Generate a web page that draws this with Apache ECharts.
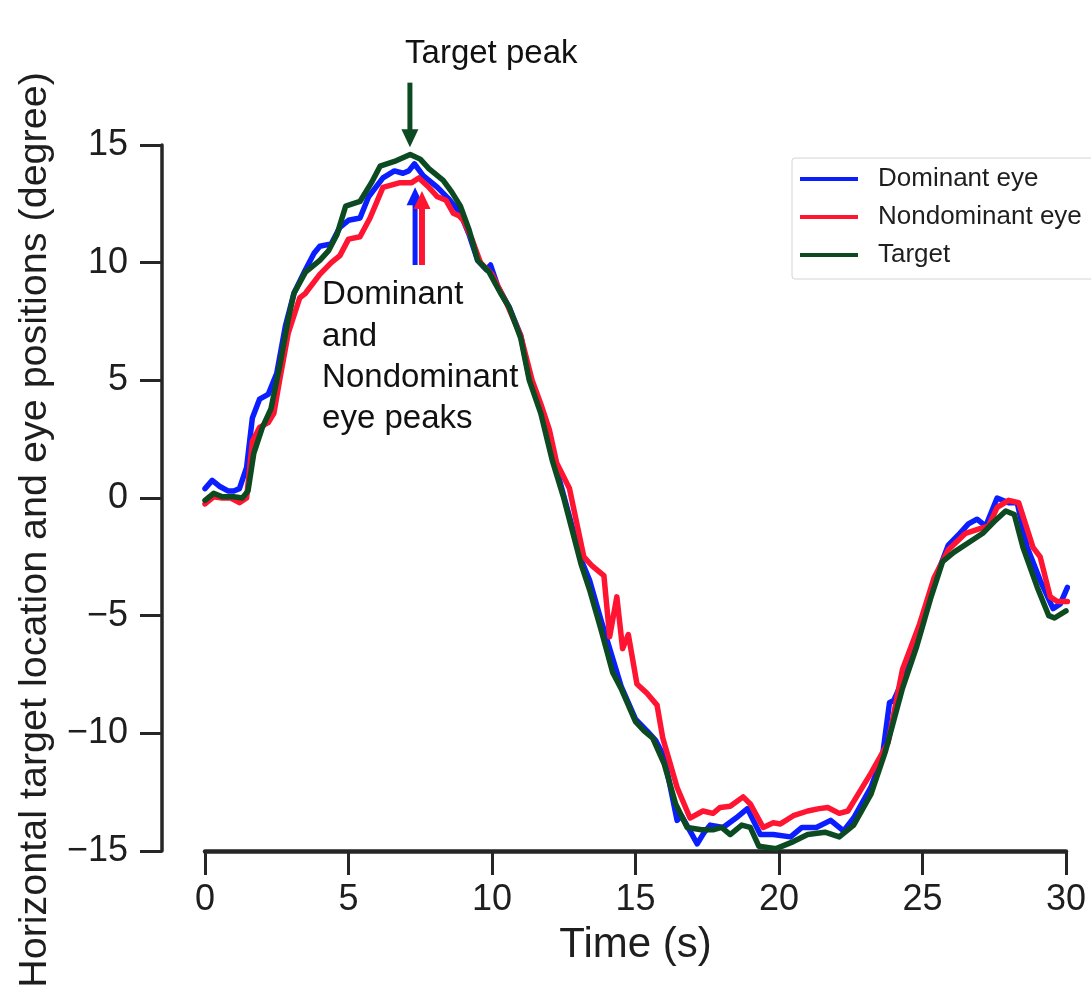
<!DOCTYPE html>
<html>
<head>
<meta charset="utf-8">
<title>Target and eye positions</title>
<script src="https://cdn.jsdelivr.net/npm/echarts@6/dist/echarts.min.js"></script>
<style>
  html, body { margin: 0; padding: 0; background: #fff; }
  #chart { width: 1091px; height: 989px; }
</style>
</head>
<body>
<div id="chart"></div>
<script>
// values (time in s, position in degree)
const seriesNames = ["Dominant eye", "Nondominant eye", "Target"];
const xTicks = [0, 5, 10, 15, 20, 25, 30];
const yTicks = [-15, -10, -5, 0, 5, 10, 15];

const domT = [0.0, 0.25, 0.5, 0.8, 1.0, 1.2, 1.45, 1.65, 1.9, 2.2, 2.5, 2.8, 3.1, 3.5, 3.8, 4.0, 4.4, 4.7, 5.0, 5.4, 5.7, 6.2, 6.6, 6.9, 7.1, 7.3, 7.6, 8.1, 8.5, 8.9, 9.2, 9.5, 9.8, 9.95, 10.2, 10.6, 11.0, 11.3, 11.7, 12.1, 12.5, 13.1, 13.4, 13.8, 14.1, 14.5, 15.0, 15.4, 15.7, 16.0, 16.45, 16.6, 17.15, 17.4, 17.6, 18.05, 18.5, 18.9, 19.35, 19.8, 20.4, 20.8, 21.3, 21.8, 22.25, 22.6, 23.2, 23.6, 23.85, 24.0, 24.4, 24.9, 25.4, 25.9, 26.3, 26.6, 26.9, 27.2, 27.6, 28.0, 28.3, 28.65, 29.1, 29.55, 29.8, 30.05];
const domV = [0.4, 0.75, 0.5, 0.3, 0.3, 0.4, 1.3, 3.4, 4.2, 4.4, 5.3, 7.3, 8.7, 9.7, 10.4, 10.7, 10.8, 11.5, 11.8, 11.9, 12.8, 13.6, 13.9, 13.8, 13.9, 14.2, 13.7, 13.2, 12.7, 12.1, 11.2, 10.1, 9.7, 9.9, 9.0, 8.1, 6.9, 5.1, 3.7, 1.9, 0.1, -2.6, -3.5, -5.2, -6.4, -8.0, -9.4, -9.9, -10.3, -11.0, -13.7, -13.5, -14.7, -14.2, -13.9, -14.0, -13.6, -13.2, -14.3, -14.3, -14.4, -14.0, -14.0, -13.7, -14.15, -13.6, -12.3, -11.0, -8.7, -8.6, -7.5, -5.8, -3.6, -2.0, -1.5, -1.1, -0.9, -1.2, 0.0, -0.2, -0.2, -2.1, -3.5, -4.7, -4.5, -3.8];

const nonT = [0.0, 0.3, 0.6, 0.9, 1.2, 1.45, 1.65, 1.9, 2.2, 2.4, 2.6, 2.9, 3.3, 3.5, 4.0, 4.4, 4.7, 5.0, 5.4, 5.75, 6.2, 6.8, 7.2, 7.45, 7.8, 8.1, 8.4, 8.65, 8.85, 9.0, 9.3, 9.6, 10.0, 10.5, 11.0, 11.4, 11.7, 12.0, 12.25, 12.7, 13.2, 13.5, 13.9, 14.1, 14.35, 14.55, 14.75, 15.05, 15.4, 15.75, 15.95, 16.45, 16.9, 17.35, 17.7, 17.95, 18.3, 18.75, 19.0, 19.45, 19.8, 20.05, 20.5, 21.0, 21.4, 21.7, 22.1, 22.4, 22.6, 23.2, 23.8, 24.3, 24.9, 25.4, 25.9, 26.5, 27.0, 27.3, 27.6, 28.0, 28.35, 28.85, 29.1, 29.45, 29.7, 30.05];
const nonV = [-0.25, 0.05, 0.0, 0.0, -0.2, 0.0, 2.4, 3.0, 3.2, 3.6, 5.0, 7.0, 8.5, 8.7, 9.5, 10.0, 10.3, 11.0, 11.1, 11.9, 13.2, 13.4, 13.4, 13.6, 13.2, 12.8, 12.65, 12.1, 12.0, 11.8, 11.0, 10.0, 9.5, 8.3, 6.9, 5.0, 4.0, 2.9, 1.5, 0.4, -2.5, -2.9, -3.3, -5.9, -4.2, -6.4, -5.8, -7.9, -8.3, -8.8, -10.2, -12.3, -13.6, -13.3, -13.4, -13.15, -13.1, -12.7, -13.0, -14.0, -13.8, -13.85, -13.5, -13.3, -13.2, -13.15, -13.4, -13.3, -12.9, -11.7, -10.4, -7.3, -5.35, -3.4, -2.2, -1.5, -1.3, -1.2, -0.4, -0.1, -0.2, -2.1, -2.5, -4.2, -4.4, -4.4];

const tgtT = [0.0, 0.3, 0.6, 1.0, 1.3, 1.5, 1.7, 2.0, 2.3, 2.6, 2.9, 3.1, 3.5, 4.0, 4.3, 4.6, 4.9, 5.4, 5.8, 6.1, 6.6, 7.15, 7.5, 7.8, 8.3, 8.6, 8.9, 9.2, 9.5, 9.9, 10.3, 10.6, 11.0, 11.3, 11.7, 12.1, 12.5, 13.1, 13.4, 13.8, 14.2, 14.5, 15.0, 15.3, 15.6, 16.0, 16.4, 16.8, 17.3, 17.7, 18.0, 18.3, 18.7, 19.0, 19.3, 19.9, 20.5, 21.0, 21.6, 22.1, 22.6, 23.2, 23.7, 24.3, 24.8, 25.3, 25.7, 26.1, 26.6, 27.1, 27.5, 27.9, 28.2, 28.5, 29.0, 29.4, 29.6, 30.0];
const tgtV = [-0.1, 0.2, 0.05, 0.05, 0.0, 0.3, 1.9, 3.0, 3.8, 5.6, 7.6, 8.7, 9.6, 10.1, 10.5, 11.2, 12.4, 12.6, 13.4, 14.1, 14.3, 14.6, 14.4, 14.0, 13.5, 13.0, 12.4, 11.4, 10.1, 9.6, 8.7, 8.1, 6.8, 5.0, 3.6, 1.6, 0.0, -2.8, -3.9, -5.6, -7.4, -8.1, -9.5, -9.9, -10.2, -11.3, -13.0, -14.0, -14.1, -14.1, -14.0, -14.3, -13.9, -14.0, -14.8, -14.9, -14.6, -14.3, -14.2, -14.4, -13.9, -12.6, -10.8, -8.1, -6.3, -4.2, -2.7, -2.3, -1.9, -1.5, -1.0, -0.55, -0.7, -2.1, -3.8, -5.0, -5.1, -4.8];

const seriesColors = ["#0a1eff", "#ff1432", "#0c4a22"];

const FONT = "'Liberation Sans', Arial, sans-serif";
const INK = "#1e1e1e";

const chartDom = document.getElementById("chart");
const myChart = echarts.init(chartDom, null, { renderer: "canvas" });

function pairs(ts, vs) {
    return ts.map((t, i) => [t, vs[i]]);
}

const minusFmt = (v) => String(v).replace("-", "\u2212");

const option = {
    animation: false,
    backgroundColor: "#fff",
    textStyle: { fontFamily: FONT },
    grid: { left: 205, right: 25, top: 145, bottom: 138 },
    legend: {
        data: seriesNames,
        orient: "vertical",
        left: 792,
        top: 158,
        icon: "rect",
        itemWidth: 58,
        itemHeight: 4,
        itemGap: 10,
        padding: [7, 30, 10, 8],
        borderColor: "#d4d4d4",
        borderWidth: 1,
        borderRadius: 3,
        textStyle: { fontSize: 26, color: INK, lineHeight: 28, padding: [0, 0, 0, 15], fontFamily: FONT }
    },
    xAxis: {
        type: "value",
        min: 0,
        max: 30,
        interval: 5,
        name: "Time (s)",
        nameLocation: "middle",
        nameGap: 73,
        nameTextStyle: { fontSize: 42, color: INK, fontFamily: FONT },
        axisLine: { show: true, onZero: false, lineStyle: { color: "#262626", width: 4.5 } },
        axisTick: { show: true, length: 24, lineStyle: { color: "#262626", width: 3 } },
        axisLabel: { fontSize: 36, color: INK, margin: 31, fontFamily: FONT },
        splitLine: { show: false }
    },
    yAxis: {
        type: "value",
        min: -15,
        max: 15,
        interval: 5,
        offset: 43,
        axisLine: { show: true, onZero: false, lineStyle: { color: "#262626", width: 3.5 } },
        axisTick: { show: true, length: 22, lineStyle: { color: "#262626", width: 3 } },
        axisLabel: { fontSize: 36, color: INK, margin: 34, formatter: minusFmt, fontFamily: FONT },
        splitLine: { show: false }
    },
    series: [
        { name: seriesNames[0], type: "line", data: pairs(domT, domV), color: seriesColors[0] },
        { name: seriesNames[1], type: "line", data: pairs(nonT, nonV), color: seriesColors[1] },
        { name: seriesNames[2], type: "line", data: pairs(tgtT, tgtV), color: seriesColors[2] }
    ].map(s => Object.assign(s, {
        symbol: "none",
        showSymbol: false,
        clip: false,
        lineStyle: { width: 5.5, color: s.color, join: "round", cap: "round" }
    }))
};

myChart.setOption(option);

// annotations, anchored in data coordinates
function arrow(t, vTail, vTip, color, shaft) {
    const tail = myChart.convertToPixel({ gridIndex: 0 }, [t, vTail]);
    const tip = myChart.convertToPixel({ gridIndex: 0 }, [t, vTip]);
    const dir = tip[1] > tail[1] ? 1 : -1;
    const headLen = 18, headHalf = 8.5;
    const baseY = tip[1] - dir * headLen;
    return [
        { type: "line", shape: { x1: tail[0], y1: tail[1], x2: tip[0], y2: baseY + dir * 2 },
          style: { stroke: color, lineWidth: shaft } },
        { type: "polygon", shape: { points: [[tip[0], tip[1]], [tip[0] - headHalf, baseY], [tip[0] + headHalf, baseY]] },
          style: { fill: color } }
    ];
}

const peakLabel = myChart.convertToPixel({ gridIndex: 0 }, [6.97, 18.85]);
const eyeLabel = myChart.convertToPixel({ gridIndex: 0 }, [4.08, 8.62]);
const eyeLines = ["Dominant", "and", "Nondominant", "eye peaks"];

const graphics = [].concat(
    arrow(7.14, 17.65, 14.9, seriesColors[2], 5),
    arrow(7.32, 9.9, 13.2, seriesColors[0], 5),
    arrow(7.56, 9.9, 13.05, seriesColors[1], 6),
    [{
        type: "text", x: peakLabel[0], y: peakLabel[1],
        style: { text: "Target peak", fontSize: 33, fontFamily: FONT, fill: "#111", align: "left", verticalAlign: "middle" }
    }],
    eyeLines.map((txt, i) => ({
        type: "text", x: eyeLabel[0], y: eyeLabel[1] + i * 41.3,
        style: { text: txt, fontSize: 33, fontFamily: FONT, fill: "#111", align: "left", verticalAlign: "middle" }
    })),
    [{
        type: "text", x: 35, y: 530, rotation: Math.PI / 2,
        style: { text: "Horizontal target location and eye positions (degree)", fontSize: 39.5, fontFamily: FONT,
                 fill: INK, align: "center", verticalAlign: "middle" }
    }]
);

myChart.setOption({ graphic: { elements: graphics } });
</script>
</body>
</html>
